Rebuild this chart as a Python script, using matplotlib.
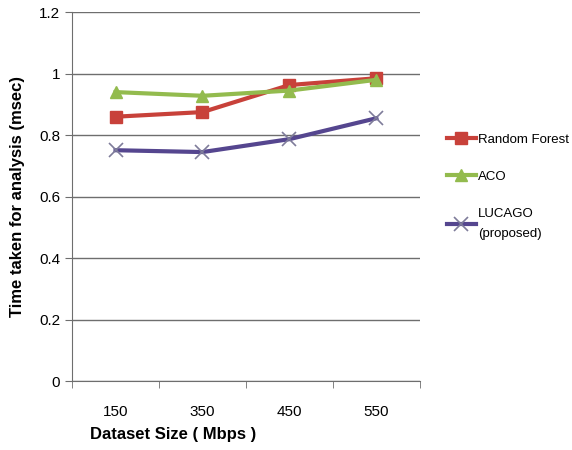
import matplotlib
matplotlib.use("Agg")
import matplotlib.pyplot as plt
import numpy as np

categories = ["150", "350", "450", "550"]
random_forest = [0.86, 0.875, 0.963, 0.985]
aco = [0.94, 0.928, 0.945, 0.98]
lucago = [0.751, 0.745, 0.787, 0.855]
series_names = ["Random Forest", "ACO", "LUCAGO\n(proposed)"]
yticks = [0, 0.2, 0.4, 0.6, 0.8, 1.0, 1.2]
ytick_labels = ["0", "0.2", "0.4", "0.6", "0.8", "1", "1.2"]

plt.rcParams["font.family"] = ["Liberation Sans", "DejaVu Sans"]

fig = plt.figure(figsize=(5.72, 4.5), dpi=100)
ax = fig.add_axes([0.126, 0.153, 0.608, 0.820])

x = np.arange(len(categories))
ax.plot(x, random_forest, color="#C8413A", lw=3, marker="s", ms=9,
        mec="#C8413A", mfc="#C8413A", label=series_names[0], zorder=3)
ax.plot(x, aco, color="#93BB4E", lw=3, marker="^", ms=9,
        mec="#93BB4E", mfc="#93BB4E", label=series_names[1], zorder=4)
ax.plot(x, lucago, color="#55468F", lw=3, marker="x", ms=10, mew=1.2,
        mec="#7E7C9A", label=series_names[2], zorder=3)

ax.set_xlim(-0.5, len(categories) - 0.5)
ax.set_ylim(0, 1.2)
ax.set_yticks(yticks)
ax.set_yticklabels(ytick_labels)
ax.yaxis.grid(True, color="#6E6E6E", lw=1)
ax.set_axisbelow(True)

ax.set_xticks(x)
ax.set_xticklabels(categories)
ax.set_xticks(np.arange(-0.5, len(categories)), minor=True)
ax.tick_params(axis="x", which="major", length=0, pad=17, labelsize=11)
ax.tick_params(axis="x", which="minor", length=5, color="#6E6E6E")
ax.tick_params(axis="y", length=5, color="#6E6E6E", labelsize=11)

for side in ["top", "right"]:
    ax.spines[side].set_visible(False)
for side in ["left", "bottom"]:
    ax.spines[side].set_color("#6E6E6E")

ax.set_xlabel("Dataset Size ( Mbps )", fontsize=12, fontweight="bold")
ax.xaxis.set_label_coords(0.29, -0.125)
ax.set_ylabel("Time taken for analysis (msec)", fontsize=12,
              fontweight="bold", labelpad=10)

leg = fig.legend(loc="upper left", bbox_to_anchor=(0.76, 0.73), frameon=False,
                 fontsize=9.5, handlelength=2.2, labelspacing=1.9,
                 handletextpad=0.2)
leg.get_texts()[2].set_linespacing(1.9)

fig.savefig("out.png", dpi=100, facecolor="white")
